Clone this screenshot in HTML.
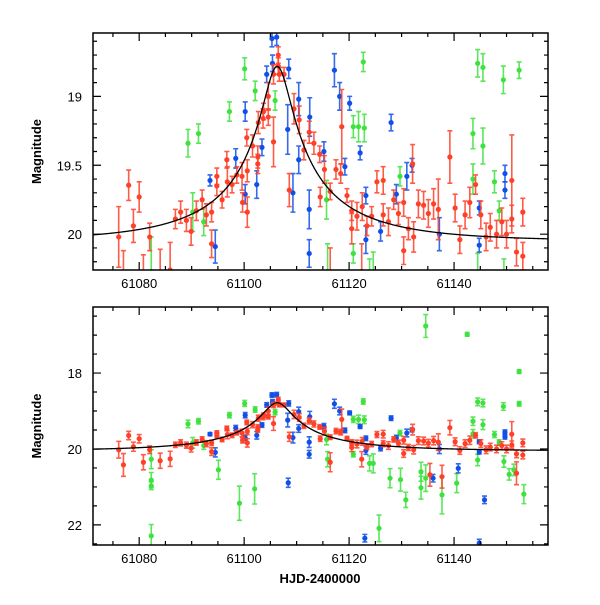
<!DOCTYPE html>
<html><head><meta charset="utf-8"><style>
html,body{margin:0;padding:0;background:#fff}
svg text{font-family:"Liberation Sans",sans-serif;}
</style></head><body>
<svg id="chart" width="600" height="600" viewBox="0 0 600 600" xmlns="http://www.w3.org/2000/svg"></svg>
<script>
// ---- data: [HJD-2400000, magnitude, error] ----
const redT=[61076.1,61078.0,61078.9,61080.0,61082.0,61086.9,61087.9,61089.0,61089.9,61090.9,61092.0,61092.8,61093.8,61093.8,61094.8,61094.8,61095.8,61096.7,61096.8,61097.7,61098.6,61099.6,61099.7,61100.6,61100.6,61100.5,61101.6,61102.6,61102.6,61102.7,61103.6,61103.7,61104.6,61104.6,61105.6,61105.6,61106.5,61106.5,61106.7,61107.6,61108.6,61109.5,61110.5,61111.4,61112.4,61113.3,61114.4,61114.5,61115.3,61116.4,61117.5,61118.4,61118.6,61119.6,61120.5,61120.5,61121.5,61122.5,61123.4,61124.3,61125.3,61126.5,61126.5,61127.5,61128.5,61129.4,61130.4,61130.4,61131.3,61132.1,61132.3,61133.2,61134.2,61135.1,61136.1,61137.0,61139.2,61140.2,61141.1,61142.1,61143.0,61144.1,61145.1,61146.1,61146.9,61148.1,61149.1,61150.0,61151.0,61151.0,61151.9,61153.1,61153.1,61077.0,61080.8,61084.0,61085.9,61116.4,61122.4,61137.7,61151.9,61135.4];
const redM=[20.02,19.645,19.94,19.73,20.02,19.89,19.84,19.9,19.98,19.83,19.75,19.86,19.84,20.07,19.58,19.65,19.75,19.46,19.62,19.64,19.57,19.58,19.77,19.54,19.84,19.3,19.36,19.49,19.44,19.19,19.16,19.11,19.0,19.15,18.84,19.33,18.7,18.78,18.84,18.84,19.68,19.09,19.17,19.39,19.26,19.34,19.42,19.73,19.53,19.69,19.53,19.56,19.22,19.72,19.83,19.96,19.87,19.8,19.94,19.87,19.62,19.61,19.86,19.91,19.75,19.85,19.77,20.12,19.96,19.49,20.02,19.78,19.79,19.85,19.78,19.82,19.44,19.81,20.04,19.86,19.77,19.64,19.86,20.02,19.95,20.0,19.91,20.0,19.61,19.89,20.13,19.84,20.16,20.42,20.35,20.31,20.26,20.35,20.27,20.73,20.64,20.68];
const redE=[0.22,0.11,0.12,0.11,0.1,0.07,0.08,0.08,0.1,0.07,0.07,0.08,0.07,0.1,0.06,0.07,0.06,0.06,0.11,0.06,0.06,0.1,0.07,0.08,0.11,0.06,0.08,0.07,0.08,0.08,0.07,0.06,0.1,0.06,0.07,0.18,0.06,0.06,0.05,0.05,0.12,0.11,0.1,0.07,0.08,0.08,0.06,0.07,0.1,0.06,0.07,0.07,0.27,0.05,0.07,0.11,0.1,0.1,0.07,0.07,0.08,0.1,0.08,0.1,0.07,0.08,0.1,0.1,0.08,0.14,0.11,0.1,0.1,0.1,0.11,0.22,0.19,0.1,0.1,0.1,0.11,0.07,0.1,0.1,0.1,0.1,0.1,0.1,0.33,0.1,0.1,0.1,0.1,0.3,0.2,0.2,0.2,0.25,0.2,0.3,0.3,0.3];
const blueT=[61093.5,61094.5,61098.4,61100.2,61100.2,61102.4,61103.4,61104.3,61105.3,61106.2,61105.4,61108.5,61108.3,61109.3,61110.4,61110.4,61112.5,61112.4,61112.4,61115.2,61117.2,61118.2,61120.1,61119.2,61122.1,61123.2,61123.2,61126.0,61128.0,61129.0,61131.0,61132.0,61137.2,61144.8,61144.8,61149.7,61149.7,61108.4,61123.0,61145.8,61144.8,61136.0,61140.8];
const blueM=[19.61,20.09,19.45,19.11,19.71,19.64,19.37,18.84,18.58,18.57,18.76,18.8,19.24,19.7,19.02,19.46,19.15,19.82,20.14,19.4,18.81,19.0,19.05,19.51,19.41,19.72,20.04,19.98,19.19,19.71,19.58,19.5,20.0,19.81,20.08,19.56,19.68,20.89,22.35,21.34,22.48,20.77,20.51];
const blueE=[0.04,0.12,0.07,0.07,0.07,0.1,0.06,0.06,0.06,0.06,0.06,0.07,0.18,0.14,0.12,0.1,0.14,0.14,0.1,0.07,0.12,0.1,0.05,0.06,0.05,0.06,0.1,0.07,0.06,0.07,0.1,0.05,0.12,0.05,0.05,0.06,0.06,0.12,0.1,0.1,0.1,0.1,0.12];
const greenT=[61089.3,61091.3,61097.2,61100.1,61102.1,61105.9,61092.3,61090.2,61115.7,61120.8,61121.8,61122.7,61122.9,61129.7,61143.6,61143.6,61144.5,61145.5,61145.5,61149.4,61152.4,61147.7,61148.6,61120.8,61082.3,61082.3,61082.3,61082.3,61095.1,61099.1,61102.0,61134.6,61142.5,61152.4,61125.7,61124.6,61127.8,61129.8,61130.8,61133.7,61133.7,61134.6,61137.7,61140.5,61144.5,61149.5,61150.5,61153.3,61151.4,61123.9,61115.9];
const greenM=[19.34,19.27,19.11,18.8,18.96,19.03,19.91,19.84,19.75,19.22,19.22,18.75,19.23,19.58,19.27,19.6,18.76,18.79,19.36,18.88,18.81,19.62,19.83,20.14,20.27,20.82,20.97,22.29,20.55,21.43,21.05,16.76,16.98,17.96,22.09,20.38,20.77,20.81,21.34,21.02,20.6,20.77,21.21,20.9,20.29,20.33,20.67,21.19,20.55,20.38,20.27];
const greenE=[0.1,0.07,0.07,0.08,0.07,0.07,0.1,0.14,0.14,0.08,0.11,0.07,0.1,0.07,0.11,0.11,0.1,0.1,0.13,0.1,0.06,0.08,0.07,0.07,0.25,0.2,0.1,0.3,0.25,0.45,0.4,0.3,0.05,0.05,0.35,0.25,0.25,0.3,0.2,0.3,0.25,0.35,0.5,0.25,0.15,0.15,0.15,0.25,0.15,0.2,0.2];
// ---- model (blended PSPL) parameters ----
const modelT0=[61106.3], modelU0=[0.1], modelTE=[26], modelFs=[0.245], modelBase=[20.05];
const xTicks=[61080,61100,61120,61140];
const topYTicks=[19,19.5,20], botYTicks=[18,20,22];

const NS="http://www.w3.org/2000/svg";
const svg=document.getElementById('chart');
function mk(tag,attrs,parent){const e=document.createElementNS(NS,tag);for(const k in attrs)e.setAttribute(k,attrs[k]);(parent||svg).appendChild(e);return e;}
const X0=61071.2,X1=61157.9,L=93,R=548;
function xs(t){return L+(t-X0)/(X1-X0)*(R-L);}
function modelMag(t){const u=Math.sqrt(modelU0[0]**2+((t-modelT0[0])/modelTE[0])**2);const A=(u*u+2)/(u*Math.sqrt(u*u+4));return modelBase[0]-2.5*Math.log10(modelFs[0]*A+1-modelFs[0]);}
const panels=[{id:'top',top:33,bot:270,m0:18.54,m1:20.26,yt:topYTicks,minor:0.1},{id:'bottom',top:307,bot:545,m0:16.26,m1:22.53,yt:botYTicks,minor:0.5}];
const series=[['green','#3ee23e',greenT,greenM,greenE],['blue','#1050e8',blueT,blueM,blueE],['red','#ff4028',redT,redM,redE]];
panels.forEach(p=>{
  const ys=m=>p.top+(m-p.m0)/(p.m1-p.m0)*(p.bot-p.top);
  const g=mk('g',{});
  
  
  const cp=mk('clipPath',{id:'clip-'+p.id},g);
  mk('rect',{x:L,y:p.top,width:R-L,height:p.bot-p.top},cp);
  const dg=mk('g',{'clip-path':'url(#clip-'+p.id+')'},g);
  series.forEach(s=>{
    const sg=mk('g',{},dg);
    
    
    for(let i=0;i<s[2].length;i++){
      const x=xs(s[2][i]),y=ys(s[3][i]),y1=ys(s[3][i]-s[4][i]),y2=ys(s[3][i]+s[4][i]);
      mk('path',{d:`M${x},${y1}V${y2}M${x-2.5},${y1}h5M${x-2.5},${y2}h5`,stroke:s[1],'stroke-width':1.6,fill:'none','stroke-opacity':0.85},sg);
      const c=mk('circle',{cx:x,cy:y,r:2.6,fill:s[1]},sg);
      
      
    }
  });
  let d='';for(let t=X0;t<=X1;t+=0.1){d+=(d?'L':'M')+xs(t).toFixed(2)+','+ys(modelMag(t)).toFixed(2);}
  const ml=mk('path',{d:d,stroke:'#000','stroke-width':1.3,fill:'none'},dg);
  
  
  const fr=mk('rect',{x:L,y:p.top,width:R-L,height:p.bot-p.top,fill:'none',stroke:'#000','stroke-width':1.5},g);
  
  
  let td='';
  for(let t=61075;t<X1;t+=5){const x=xs(t),len=(t%20===0)?8:4;td+=`M${x},${p.bot}v${-len}M${x},${p.top}v${len}`;}
  for(let m=Math.ceil(p.m0/p.minor)*p.minor;m<p.m1;m+=p.minor){const mm=Math.round(m*100)/100;const y=ys(mm);const major=p.yt.some(v=>Math.abs(v-mm)<1e-6);const len=major?8:4;td+=`M${L},${y}h${len}M${R},${y}h${-len}`;}
  mk('path',{d:td,stroke:'#000','stroke-width':1.2,fill:'none'},g);
  xTicks.forEach(v=>{const t=mk('text',{x:xs(v),y:p.bot+18,'text-anchor':'middle','font-size':13},g);t.textContent=v;
    
    });
  p.yt.forEach(v=>{const t=mk('text',{x:82,y:ys(v)+5,'text-anchor':'end','font-size':13},g);t.textContent=v;
    
    });
  const yl=mk('text',{x:0,y:0,transform:`translate(41,${(p.top+p.bot)/2}) rotate(-90)`,'text-anchor':'middle','font-size':13,'font-weight':'bold'},g);
  yl.textContent='Magnitude';
  
  
});
const xl=mk('text',{x:320,y:583,'text-anchor':'middle','font-size':13,'font-weight':'bold'});
xl.textContent='HJD-2400000';


</script>
</body></html>
